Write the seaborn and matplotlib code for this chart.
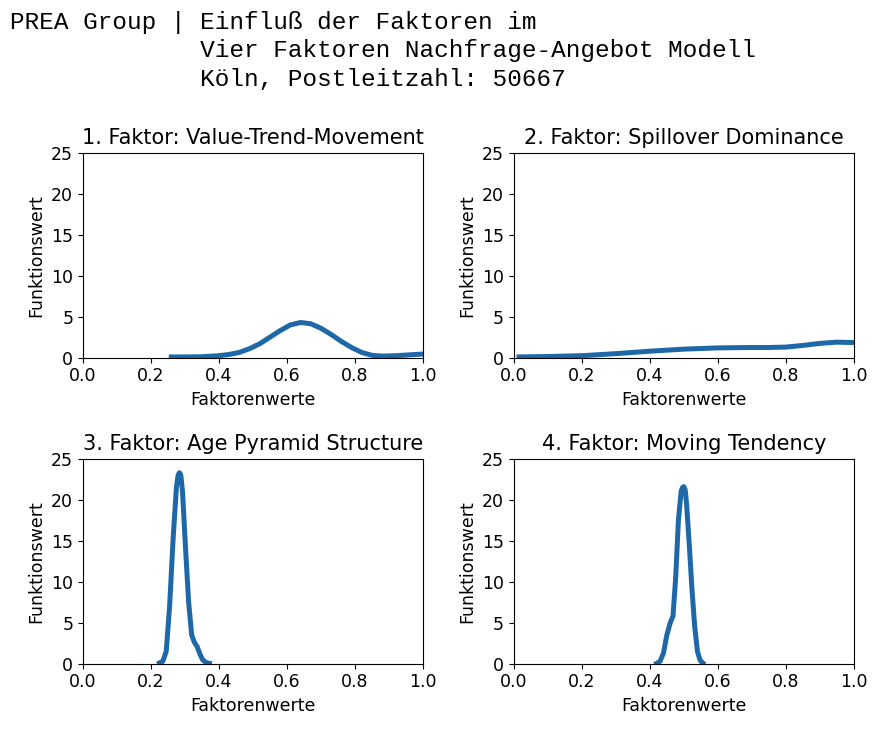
import matplotlib
matplotlib.use('Agg')
import matplotlib.pyplot as plt
import seaborn as sns

# Curve values (x = Faktorenwert, y = Funktionswert)
titles = ['1. Faktor: Value-Trend-Movement', '2. Faktor: Spillover Dominance',
          '3. Faktor: Age Pyramid Structure', '4. Faktor: Moving Tendency']

f1_x = [0.26, 0.30, 0.35, 0.40, 0.43, 0.46, 0.49, 0.52, 0.55, 0.58, 0.61, 0.64,
        0.67, 0.70, 0.73, 0.76, 0.79, 0.82, 0.85, 0.88, 0.92, 0.96, 1.00, 1.04]
f1_y = [0.1, 0.1, 0.12, 0.25, 0.4, 0.65, 1.1, 1.7, 2.5, 3.3, 4.0, 4.3,
        4.15, 3.6, 2.85, 2.0, 1.25, 0.65, 0.3, 0.2, 0.25, 0.35, 0.45, 0.5]

f2_x = [0.015, 0.1, 0.2, 0.3, 0.4, 0.5, 0.6, 0.7, 0.75, 0.8, 0.85, 0.9, 0.95, 1.0, 1.05]
f2_y = [0.1, 0.15, 0.25, 0.5, 0.8, 1.05, 1.2, 1.25, 1.25, 1.3, 1.5, 1.75, 1.9, 1.85, 1.7]

f3_x = [0.225, 0.235, 0.245, 0.255, 0.265, 0.275, 0.280, 0.284, 0.288, 0.293,
        0.302, 0.311, 0.320, 0.328, 0.336, 0.344, 0.352, 0.362, 0.372]
f3_y = [0.1, 0.3, 1.5, 7, 15, 21.5, 23.0, 23.3, 23.0, 21,
        14, 7.5, 3.5, 2.6, 2.1, 1.2, 0.5, 0.15, 0.05]

f4_x = [0.420, 0.430, 0.440, 0.450, 0.460, 0.468, 0.476, 0.484, 0.492, 0.496,
        0.500, 0.504, 0.508, 0.516, 0.524, 0.532, 0.540, 0.548, 0.556]
f4_y = [0.05, 0.3, 1.3, 3.5, 5.0, 5.8, 10.5, 17.5, 21.0, 21.5,
        21.6, 21.2, 19.5, 14.5, 9, 4.5, 1.5, 0.4, 0.1]

curves = [(f1_x, f1_y), (f2_x, f2_y), (f3_x, f3_y), (f4_x, f4_y)]

header = ('PREA Group | Einfluß der Faktoren im\n'
          '             Vier Faktoren Nachfrage-Angebot Modell\n'
          '             Köln, Postleitzahl: 50667')

fig, axes = plt.subplots(2, 2, figsize=(8.73, 7.31), dpi=100)
fig.subplots_adjust(left=0.095, right=0.978, top=0.791, bottom=0.092,
                    wspace=0.268, hspace=0.493)

for ax, title, (xs, ys) in zip(axes.flat, titles, curves):
    sns.lineplot(x=xs, y=ys, ax=ax, color='#1f68a8', linewidth=3.6)
    ax.set_xlim(0, 1)
    ax.set_ylim(0, 25)
    ax.set_yticks(range(0, 26, 5))
    ax.set_title(title, fontsize=15)
    ax.set_xlabel('Faktorenwerte', fontsize=12.5)
    ax.set_ylabel('Funktionswert', fontsize=12.5)
    ax.tick_params(labelsize=12.5)

fig.text(10 / 873, 1 - 11 / 731, header, family='Liberation Mono', fontsize=17.6,
         va='top', ha='left', linespacing=1.3)

fig.savefig('out.png', dpi=100)
